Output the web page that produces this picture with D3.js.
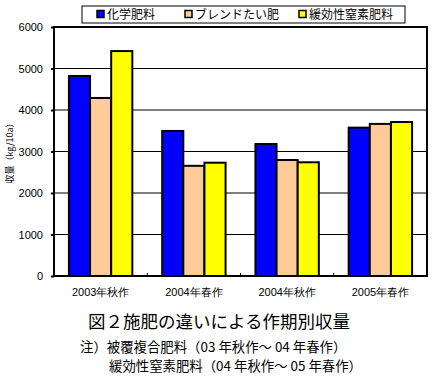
<!DOCTYPE html>
<html>
<head>
<meta charset="utf-8">
<script src="https://d3js.org/d3.v7.min.js"></script>
<style>
  body { margin: 0; background: #fff; }
  svg { display: block; }
  text { font-family: "Noto Sans CJK JP", "DejaVu Sans", sans-serif; fill: #000; }
  .tick text { font-family: "Liberation Sans", Arial, sans-serif; font-size: 11px; }
</style>
</head>
<body>
<svg width="434" height="378"></svg>
<script>
const categories = ["2003年秋作", "2004年春作", "2004年秋作", "2005年春作"];
const series = ["化学肥料", "ブレンドたい肥", "緩効性窒素肥料"];
const colors = ["#0000ff", "#ffcc99", "#ffff00"];
const values = [
  [4820, 3495, 3180, 3575],   // 化学肥料
  [4290, 2655, 2795, 3665],   // ブレンドたい肥
  [5420, 2730, 2740, 3710]    // 緩効性窒素肥料
];
const yTicks = [0, 1000, 2000, 3000, 4000, 5000, 6000];

const svg = d3.select("svg");
const plot = { left: 54, right: 427, top: 27, bottom: 276 };

const x = d3.scaleBand().domain(categories).range([plot.left, plot.right]).paddingInner(0.32).paddingOuter(0.16);
const xs = d3.scaleBand().domain(series).range([0, x.bandwidth()]);
const y = d3.scaleLinear().domain([0, 6000]).range([plot.bottom, plot.top]);

// gridlines
svg.append("g").selectAll("line")
  .data(yTicks.slice(1, -1))
  .enter().append("line")
  .attr("x1", plot.left).attr("x2", plot.right)
  .attr("y1", d => y(d)).attr("y2", d => y(d))
  .attr("stroke", "#000").attr("stroke-width", 1);

// bars
const groups = svg.append("g").selectAll("g")
  .data(categories)
  .enter().append("g")
  .attr("transform", d => `translate(${x(d)},0)`);

groups.selectAll("rect")
  .data((c, i) => series.map((s, j) => ({ s, j, v: values[j][i] })))
  .enter().append("rect")
  .attr("x", d => xs(d.s))
  .attr("width", xs.bandwidth())
  .attr("y", d => y(d.v))
  .attr("height", d => y(0) - y(d.v))
  .attr("fill", d => colors[d.j])
  .attr("stroke", "#000").attr("stroke-width", 2);

// frame
svg.append("rect")
  .attr("x", plot.left).attr("y", plot.top)
  .attr("width", plot.right - plot.left).attr("height", plot.bottom - plot.top)
  .attr("fill", "none").attr("stroke", "#000").attr("stroke-width", 2);

// y axis
const yAxis = svg.append("g")
  .attr("transform", `translate(${plot.left},0)`)
  .call(d3.axisLeft(y).tickValues(yTicks).tickFormat(d3.format("d")).tickSize(3).tickPadding(8));
yAxis.select(".domain").remove();
yAxis.selectAll(".tick line").attr("stroke-width", 2);

// x axis
const xAxis = svg.append("g")
  .attr("transform", `translate(0,${plot.bottom})`)
  .call(d3.axisBottom(x).tickSize(0).tickPadding(12));
xAxis.select(".domain").remove();

// small ticks between categories
svg.append("g").selectAll("line")
  .data(categories.slice(1))
  .enter().append("line")
  .attr("x1", d => x(d) - x.step() * x.paddingInner() / 2)
  .attr("x2", d => x(d) - x.step() * x.paddingInner() / 2)
  .attr("y1", plot.bottom).attr("y2", plot.bottom - 3)
  .attr("stroke", "#000");

// y label
svg.append("text")
  .attr("transform", "translate(13,151) rotate(-90)")
  .attr("text-anchor", "middle")
  .attr("font-size", 9)
  .text("収量（kg/10a）");

// legend
const legend = svg.append("g");
legend.append("rect")
  .attr("x", 82).attr("y", 6).attr("width", 323).attr("height", 17)
  .attr("fill", "#fff").attr("stroke", "#000").attr("stroke-width", 1);
const legX = [97, 185, 299];
series.forEach((s, i) => {
  legend.append("rect")
    .attr("x", legX[i]).attr("y", 10.5).attr("width", 7).attr("height", 7)
    .attr("fill", colors[i]).attr("stroke", "#000").attr("stroke-width", 1.5);
  legend.append("text")
    .attr("x", legX[i] + 10).attr("y", 19)
    .attr("font-size", 12)
    .text(s);
});

// title and notes
svg.append("text")
  .attr("x", 219).attr("y", 328)
  .attr("text-anchor", "middle")
  .attr("font-size", 17.5)
  .text("図２施肥の違いによる作期別収量");
svg.append("text")
  .attr("x", 80).attr("y", 352)
  .attr("font-size", 13.4)
  .text("注）被覆複合肥料（03 年秋作～ 04 年春作）");
svg.append("text")
  .attr("x", 109).attr("y", 371)
  .attr("font-size", 13.4)
  .text("緩効性窒素肥料（04 年秋作～ 05 年春作）");
</script>
</body>
</html>
